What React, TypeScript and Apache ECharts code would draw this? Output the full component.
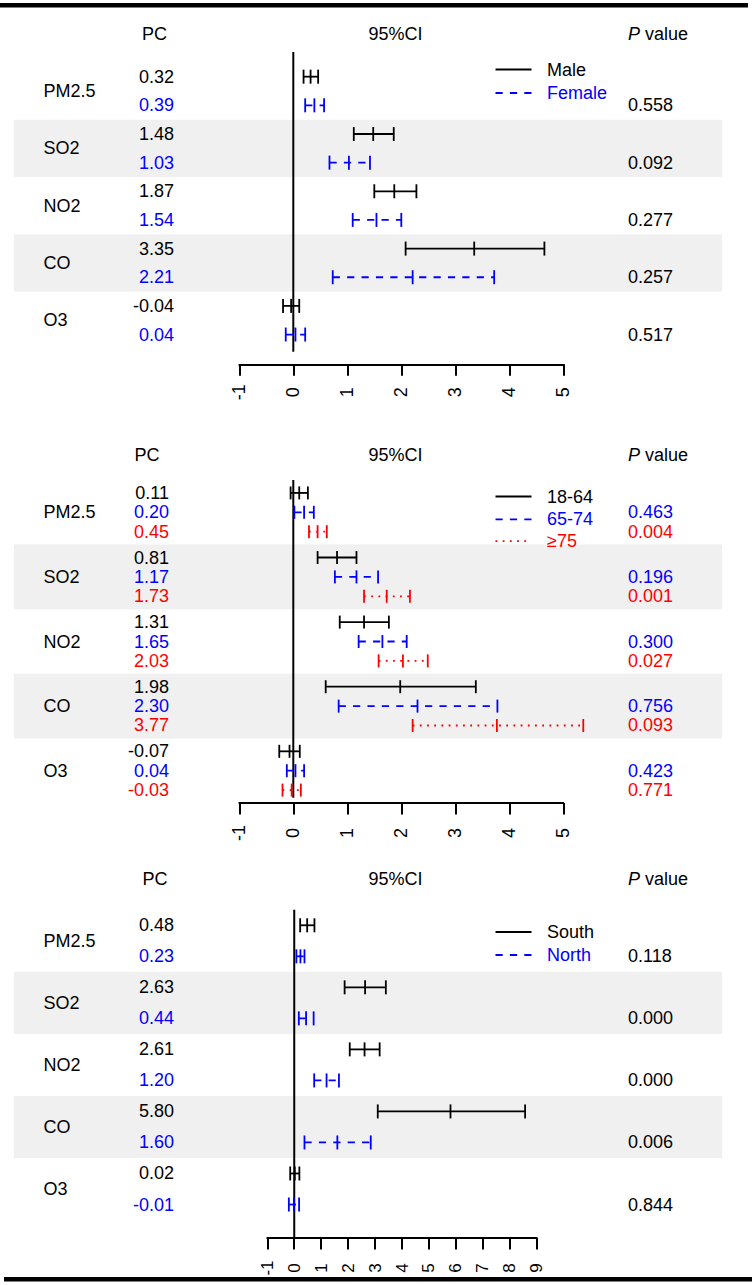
import React, { useEffect, useRef } from "react";
import * as echarts from "echarts";

const FONT = "'Liberation Sans', Arial, Helvetica, sans-serif";
const BLACK = "#000000";
const BLUE = "#0000ff";
const RED = "#ff0000";
const DASHED = [7.2, 7.2];
const DOTTED = [1.8, 5.4];

// ---------------- data ----------------
const pollutants = ["PM2.5", "SO2", "NO2", "CO", "O3"];
const xTicks1 = [-1, 0, 1, 2, 3, 4, 5];
const xTicks3 = [-1, 0, 1, 2, 3, 4, 5, 6, 7, 8, 9];

// Panel 1: sex
const malePC = [0.32, 1.48, 1.87, 3.35, -0.04];
const maleLo = [0.19, 1.12, 1.5, 2.08, -0.19];
const maleHi = [0.46, 1.86, 2.28, 4.65, 0.11];
const femalePC = [0.39, 1.03, 1.54, 2.21, 0.04];
const femaleLo = [0.22, 0.67, 1.1, 0.73, -0.14];
const femaleHi = [0.57, 1.42, 2.0, 3.72, 0.22];
const sexP = ["0.558", "0.092", "0.277", "0.257", "0.517"];

// Panel 2: age
const age1PC = [0.11, 0.81, 1.31, 1.98, -0.07];
const age1Lo = [-0.05, 0.45, 0.86, 0.6, -0.26];
const age1Hi = [0.27, 1.17, 1.77, 3.38, 0.12];
const age2PC = [0.2, 1.17, 1.65, 2.3, 0.04];
const age2Lo = [0.02, 0.77, 1.21, 0.84, -0.12];
const age2Hi = [0.38, 1.57, 2.1, 3.78, 0.2];
const age3PC = [0.45, 1.73, 2.03, 3.77, -0.03];
const age3Lo = [0.29, 1.31, 1.58, 2.21, -0.2];
const age3Hi = [0.62, 2.16, 2.49, 5.37, 0.14];
const age2P = ["0.463", "0.196", "0.300", "0.756", "0.423"];
const age3P = ["0.004", "0.001", "0.027", "0.093", "0.771"];

// Panel 3: region
const southPC = [0.48, 2.63, 2.61, 5.8, 0.02];
const southLo = [0.22, 1.87, 2.06, 3.1, -0.15];
const southHi = [0.75, 3.4, 3.17, 8.57, 0.19];
const northPC = [0.23, 0.44, 1.2, 1.6, -0.01];
const northLo = [0.08, 0.17, 0.74, 0.38, -0.2];
const northHi = [0.38, 0.72, 1.66, 2.84, 0.18];
const regionP = ["0.118", "0.000", "0.000", "0.006", "0.844"];

// ---------------- layout ----------------
type Grp = {
  name: string;
  pc: number[];
  lo: number[];
  hi: number[];
  color: string;
  dash: number[] | null;
  pvals: string[] | null;
};

const panels = [
  {
    groups: [
      { name: "Male", pc: malePC, lo: maleLo, hi: maleHi, color: BLACK, dash: null, pvals: null },
      { name: "Female", pc: femalePC, lo: femaleLo, hi: femaleHi, color: BLUE, dash: DASHED, pvals: sexP },
    ] as Grp[],
    pvalColorBlack: true,
    offsets: [-0.25, 0.25],
    y0: 91,
    sp: 57.3,
    yMin: -1.5,
    yMax: 4.77,
    left: 239.3,
    width: 324,
    ticks: xTicks1,
    tickFont: 18,
    labelMargin: 28,
    pcRight: 174,
    headerY: -1.0,
    pcHeaderX: 154.5,
    zeroTop: -0.68,
    zeroBottom: 4.55,
    legendY: [69.5, 93],
    capH: 7,
  },
  {
    groups: [
      { name: "18-64", pc: age1PC, lo: age1Lo, hi: age1Hi, color: BLACK, dash: null, pvals: null },
      { name: "65-74", pc: age2PC, lo: age2Lo, hi: age2Hi, color: BLUE, dash: DASHED, pvals: age2P },
      { name: "≥75", pc: age3PC, lo: age3Lo, hi: age3Hi, color: RED, dash: DOTTED, pvals: age3P },
    ] as Grp[],
    pvalColorBlack: false,
    offsets: [-0.3, 0, 0.3],
    y0: 512.3,
    sp: 64.6,
    yMin: -1.2,
    yMax: 4.5,
    left: 239.3,
    width: 324,
    ticks: xTicks1,
    tickFont: 18,
    labelMargin: 30,
    pcRight: 169,
    headerY: -0.89,
    pcHeaderX: 147,
    zeroTop: -0.5,
    zeroBottom: 4.42,
    legendY: [496.5, 519.3, 541.2],
    capH: 6.5,
  },
  {
    groups: [
      { name: "South", pc: southPC, lo: southLo, hi: southHi, color: BLACK, dash: null, pvals: null },
      { name: "North", pc: northPC, lo: northLo, hi: northHi, color: BLUE, dash: DASHED, pvals: regionP },
    ] as Grp[],
    pvalColorBlack: true,
    offsets: [-0.25, 0.25],
    y0: 940.8,
    sp: 62.05,
    yMin: -1.2,
    yMax: 4.79,
    left: 267.3,
    width: 269.4,
    ticks: xTicks3,
    tickFont: 17,
    labelMargin: 30,
    pcRight: 174,
    headerY: -1.0,
    pcHeaderX: 155,
    zeroTop: -0.5,
    zeroBottom: 4.79,
    legendY: [932, 955],
    capH: 7,
  },
];

function buildOption() {
  const grid: any[] = [];
  const xAxis: any[] = [];
  const yAxis: any[] = [];
  const series: any[] = [];
  const graphic: any[] = [];

  const txt = (x: number, y: number, text: string, fill: string, align = "left") => ({
    type: "text",
    x,
    y,
    z: 100,
    silent: true,
    style: { text, fill, fontSize: 18, fontFamily: FONT, align, verticalAlign: "middle" },
  });

  panels.forEach((p, pi) => {
    const top = p.y0 + p.yMin * p.sp;
    const height = (p.yMax - p.yMin) * p.sp;
    grid.push({ left: p.left, width: p.width, top, height, containLabel: false });
    xAxis.push({
      gridIndex: pi,
      type: "value",
      min: p.ticks[0],
      max: p.ticks[p.ticks.length - 1],
      interval: 1,
      axisLine: { show: true, onZero: false, lineStyle: { color: BLACK, width: 2 } },
      axisTick: { show: true, length: 11.5, lineStyle: { color: BLACK, width: 2 } },
      axisLabel: {
        show: true,
        rotate: 90,
        align: "center",
        verticalAlign: "middle",
        margin: p.labelMargin,
        fontSize: p.tickFont,
        fontFamily: FONT,
        color: BLACK,
        showMinLabel: true,
        showMaxLabel: true,
      },
      splitLine: { show: false },
    });
    yAxis.push({
      gridIndex: pi,
      type: "value",
      min: p.yMin,
      max: p.yMax,
      inverse: true,
      show: false,
    });

    // shaded bands for alternate pollutants
    series.push({
      type: "custom",
      name: "bands" + pi,
      xAxisIndex: pi,
      yAxisIndex: pi,
      z: 0,
      silent: true,
      data: pollutants.map((_, i) => [0, i]).filter((d) => d[1] % 2 === 1),
      renderItem: (params: any, api: any) => {
        const g = api.value(1);
        const a = api.coord([0, g - 0.5]);
        const b = api.coord([0, g + 0.5]);
        return {
          type: "rect",
          shape: { x: 14, y: a[1], width: 708, height: b[1] - a[1] },
          style: { fill: "#f0f0f0" },
        };
      },
    });

    // pollutant labels
    series.push({
      type: "custom",
      name: "labels" + pi,
      xAxisIndex: pi,
      yAxisIndex: pi,
      z: 3,
      silent: true,
      data: pollutants.map((_, i) => [0, i]),
      renderItem: (params: any, api: any) => {
        const c = api.coord([0, api.value(1)]);
        return txt(43.5, c[1], pollutants[params.dataIndex], BLACK);
      },
    });

    // zero reference line
    series.push({
      type: "custom",
      name: "zero" + pi,
      xAxisIndex: pi,
      yAxisIndex: pi,
      z: 2,
      silent: true,
      data: [[0, p.zeroTop, p.zeroBottom]],
      renderItem: (params: any, api: any) => {
        const a = api.coord([api.value(0), api.value(1)]);
        const b = api.coord([api.value(0), api.value(2)]);
        return {
          type: "line",
          shape: { x1: a[0], y1: a[1], x2: b[0], y2: b[1] },
          style: { stroke: BLACK, lineWidth: 2 },
        };
      },
    });

    // error bars per group
    p.groups.forEach((g, gi) => {
      const off = p.offsets[gi];
      series.push({
        type: "custom",
        name: g.name,
        xAxisIndex: pi,
        yAxisIndex: pi,
        z: 4,
        silent: true,
        data: pollutants.map((_, i) => [g.lo[i], g.hi[i], g.pc[i], i + off]),
        renderItem: (params: any, api: any) => {
          const lo = api.value(0);
          const hi = api.value(1);
          const est = api.value(2);
          const yv = api.value(3);
          const a = api.coord([lo, yv]);
          const b = api.coord([hi, yv]);
          const e = api.coord([est, yv]);
          const h = p.capH;
          const dashStyle: any = { stroke: g.color, lineWidth: 1.8, lineCap: "butt" };
          if (g.dash) dashStyle.lineDash = g.dash;
          const solid = { stroke: g.color, lineWidth: 1.8 };
          const children: any[] = [
            { type: "line", shape: { x1: a[0], y1: a[1], x2: b[0], y2: b[1] }, style: dashStyle },
            { type: "line", shape: { x1: a[0], y1: a[1] - h, x2: a[0], y2: a[1] + h }, style: solid },
            { type: "line", shape: { x1: b[0], y1: b[1] - h, x2: b[0], y2: b[1] + h }, style: solid },
            { type: "line", shape: { x1: e[0], y1: e[1] - h, x2: e[0], y2: e[1] + h }, style: solid },
            txt(p.pcRight, e[1], g.pc[params.dataIndex].toFixed(2), g.color, "right"),
          ];
          if (g.pvals) {
            children.push(
              txt(628, e[1], g.pvals[params.dataIndex], p.pvalColorBlack ? BLACK : g.color)
            );
          }
          return { type: "group", children };
        },
      });
    });

    // headers
    const hy = p.y0 + p.headerY * p.sp;
    graphic.push(txt(p.pcHeaderX, hy, "PC", BLACK, "center"));
    graphic.push(txt(395.5, hy, "95%CI", BLACK, "center"));
    graphic.push({
      type: "text",
      x: 628,
      y: hy,
      z: 100,
      silent: true,
      style: {
        text: "{i|P} value",
        rich: { i: { fontStyle: "italic", fontSize: 18, fontFamily: FONT, fill: BLACK } },
        fill: BLACK,
        fontSize: 18,
        fontFamily: FONT,
        align: "left",
        verticalAlign: "middle",
      },
    });

    // legend
    p.groups.forEach((g, gi) => {
      const ly = p.legendY[gi];
      const st: any = { stroke: g.color, lineWidth: 1.8, lineCap: "butt" };
      if (g.dash) st.lineDash = g.dash;
      graphic.push({
        type: "line",
        z: 100,
        silent: true,
        shape: { x1: 495.5, y1: ly, x2: 531.5, y2: ly },
        style: st,
      });
      graphic.push(txt(547, ly, g.name, g.color));
    });
  });

  // top and bottom rules
  graphic.push({ type: "rect", z: 100, silent: true, shape: { x: 0, y: 3, width: 748, height: 4.5 }, style: { fill: BLACK } });
  graphic.push({ type: "rect", z: 100, silent: true, shape: { x: 4, y: 1277, width: 748, height: 4.5 }, style: { fill: BLACK } });

  return {
    animation: false,
    backgroundColor: "#ffffff",
    grid,
    xAxis,
    yAxis,
    series,
    graphic,
  };
}

export default function App() {
  const ref = useRef<HTMLDivElement>(null);
  useEffect(() => {
    if (!ref.current) return;
    const chart = echarts.init(ref.current, null, { renderer: "svg" });
    chart.setOption(buildOption() as any);
    return () => chart.dispose();
  }, []);
  return (
    <div
      ref={ref}
      style={{ position: "absolute", left: 0, top: 0, width: 754, height: 1285, background: "#fff" }}
    />
  );
}
